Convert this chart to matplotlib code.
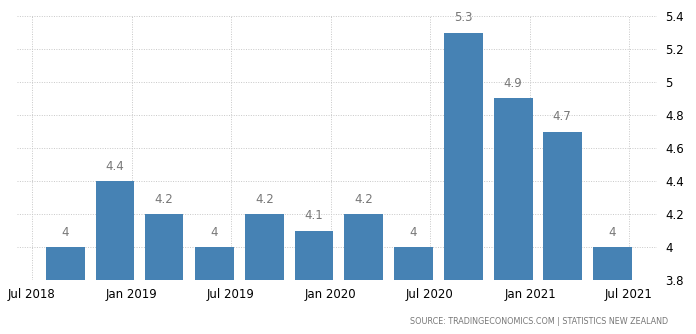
import matplotlib
matplotlib.use("Agg")
import matplotlib.pyplot as plt
import numpy as np
import datetime as dt

# quarterly unemployment rate, New Zealand (%)
quarters = ["2018-09-01", "2018-12-01", "2019-03-01", "2019-06-01",
            "2019-09-01", "2019-12-01", "2020-03-01", "2020-06-01",
            "2020-09-01", "2020-12-01", "2021-03-01", "2021-06-01"]
rates = [4.0, 4.4, 4.2, 4.0, 4.2, 4.1, 4.2, 4.0, 5.3, 4.9, 4.7, 4.0]
xtick_dates = ["2018-07-01", "2019-01-01", "2019-07-01", "2020-01-01",
               "2020-07-01", "2021-01-01", "2021-07-01"]
xtick_labels = ["Jul 2018", "Jan 2019", "Jul 2019", "Jan 2020",
                "Jul 2020", "Jan 2021", "Jul 2021"]
yticks = [3.8, 4, 4.2, 4.4, 4.6, 4.8, 5, 5.2, 5.4]

x = [dt.datetime.strptime(d, "%Y-%m-%d") for d in quarters]
xt = [dt.datetime.strptime(d, "%Y-%m-%d") for d in xtick_dates]

fig = plt.figure(figsize=(6.96, 3.34), dpi=100)
ax = fig.add_axes([17 / 696, 1 - 280 / 334, 640 / 696, 264 / 334])

ax.bar(x, np.array(rates) - 3.8, bottom=3.8, width=71, color="#4682b4", zorder=3)
for xi, v in zip(x, rates):
    ax.text(xi, v + 0.05, f"{v:g}", ha="center", va="bottom",
            fontsize=8.5, color="#777777", zorder=4)

ax.set_xlim(dt.datetime(2018, 6, 4), dt.datetime(2021, 8, 22))
ax.set_ylim(3.8, 5.4)
ax.set_xticks(xt)
ax.set_xticklabels(xtick_labels)
ax.set_yticks(yticks)
ax.set_yticklabels([f"{t:g}" for t in yticks])
ax.yaxis.tick_right()
ax.tick_params(axis="both", length=0, labelsize=8.5, colors="black")
ax.tick_params(axis="y", pad=6)
ax.tick_params(axis="x", pad=6)

ax.grid(True, color="#c8c8c8", linestyle=(0, (1, 1.5)), linewidth=0.7, zorder=0)
for s in ax.spines.values():
    s.set_visible(False)

fig.text(668 / 696, 1 - 322 / 334, "SOURCE: TRADINGECONOMICS.COM | STATISTICS NEW ZEALAND",
         ha="right", va="center", fontsize=5.8, color="#777777")

fig.savefig("out.png", dpi=100)
